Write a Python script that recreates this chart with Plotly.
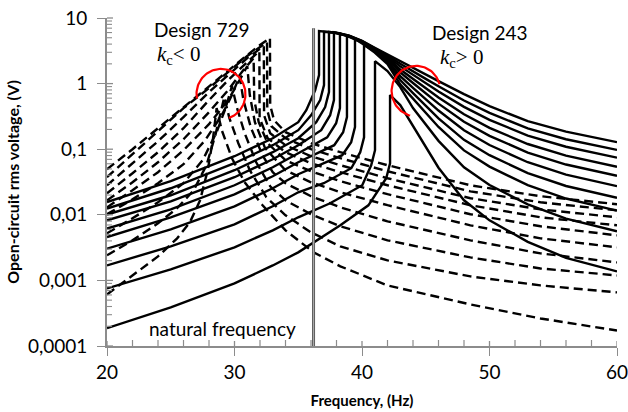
import numpy as np
import plotly.graph_objects as go

# ---------------- Design 243 (k_c > 0) : solid curves ----------------
s1_f = [20, 25, 30, 33, 35, 35.63, 36.33, 36.63, 36.63, 37, 38, 39, 40, 41, 42, 43, 44, 45, 46, 48, 50, 53, 56, 60]
s1_v = [0.01568, 0.0325, 0.0781, 0.147, 0.258, 0.394, 0.796, 1.348, 6.33, 6.22, 5.97, 5.39, 4.50, 3.52, 2.78, 2.21, 1.72, 1.37, 1.09, 0.691, 0.453, 0.268, 0.185, 0.128]
s2_f = [20, 25, 30, 33, 35, 36.02, 36.72, 37.02, 37.02, 38, 39, 40, 41, 42, 43, 44, 45, 46, 48, 50, 53, 56, 60]
s2_v = [0.01243, 0.02539, 0.0611, 0.1151, 0.195, 0.3303, 0.560, 0.949, 6.16, 5.94, 5.35, 4.46, 3.46, 2.68, 2.01, 1.52, 1.18, 0.91, 0.552, 0.357, 0.208, 0.142, 0.0976]
s3_f = [20, 25, 30, 33, 35, 36.41, 37.11, 37.41, 37.41, 38, 39, 40, 41, 42, 43, 44, 45, 46, 48, 50, 53, 56, 60]
s3_v = [0.01007, 0.01985, 0.0478, 0.090, 0.147, 0.258, 0.4377, 0.742, 6.12, 5.90, 5.31, 4.41, 3.40, 2.58, 1.83, 1.35, 1.01, 0.758, 0.442, 0.280, 0.161, 0.109, 0.0742]
s4_f = [20, 25, 30, 33, 35, 36.8, 37.5, 37.8, 37.8, 38, 39, 40, 41, 42, 43, 44, 45, 46, 48, 50, 53, 56, 60]
s4_v = [0.00824, 0.01607, 0.03737, 0.0703, 0.1151, 0.195, 0.330, 0.560, 6.02, 5.86, 5.27, 4.36, 3.34, 2.49, 1.64, 1.17, 0.845, 0.613, 0.341, 0.211, 0.120, 0.0799, 0.0540]
s5_f = [20, 25, 30, 33, 35, 37.27, 37.97, 38.27, 38.27, 39, 40, 41, 42, 43, 44, 45, 46, 48, 50, 53, 56, 60]
s5_v = [0.00616, 0.01213, 0.0282, 0.0531, 0.0869, 0.152, 0.249, 0.423, 5.80, 5.22, 4.30, 3.27, 2.37, 1.48, 1.02, 0.706, 0.495, 0.262, 0.160, 0.0890, 0.0584, 0.0394]
s6_f = [20, 25, 30, 33, 35, 37.82, 38.52, 38.82, 38.82, 39, 40, 41, 42, 43, 44, 45, 46, 48, 50, 53, 56, 60]
s6_v = [0.00458, 0.00916, 0.02056, 0.0387, 0.0633, 0.1151, 0.1817, 0.3078, 5.40, 5.16, 4.24, 3.19, 2.24, 1.30, 0.863, 0.576, 0.388, 0.195, 0.116, 0.0633, 0.0410, 0.0273]
s7_f = [20, 25, 30, 33, 35, 38.45, 39.15, 39.45, 39.45, 40, 41, 42, 43, 44, 45, 46, 48, 50, 53, 56, 60]
s7_v = [0.00305, 0.00601, 0.01348, 0.02539, 0.0415, 0.0810, 0.128, 0.2167, 4.80, 4.15, 3.10, 2.13, 1.135, 0.716, 0.458, 0.295, 0.139, 0.0810, 0.0433, 0.0275, 0.0182]
s8_f = [20, 25, 30, 33, 35, 37, 39.16, 39.86, 40.16, 40.16, 41, 42, 43, 44, 45, 46, 48, 50, 53, 56, 60]
s8_v = [0.001694, 0.003304, 0.00716, 0.01348, 0.02206, 0.0303, 0.0513, 0.090, 0.152, 3.9, 2.97, 1.99, 0.972, 0.586, 0.354, 0.218, 0.0959, 0.0543, 0.0283, 0.0177, 0.01155]
s9_f = [20, 25, 30, 33, 35, 37.5, 40.02, 40.72, 41.02, 41.02, 42, 43, 44, 45, 46, 48, 50, 53, 56, 60]
s9_v = [0.000755, 0.001472, 0.00319, 0.0058, 0.00916, 0.0150, 0.0282, 0.0569, 0.0965, 2.2, 1.55, 0.884, 0.423, 0.237, 0.134, 0.0529, 0.0285, 0.0144, 0.00872, 0.0056]
s10_f = [20, 25, 30, 33, 35, 38.3, 40.5, 41.2, 41.9, 42.2, 42.2, 43, 44, 45, 46, 48, 50, 53, 56, 60]
s10_v = [0.000187, 0.000387, 0.0009, 0.00169, 0.002676, 0.00691, 0.01396, 0.02206, 0.0361, 0.0611, 0.668, 0.470, 0.224, 0.107, 0.0522, 0.01665, 0.00824, 0.00387, 0.00221, 0.00137]

# ---------------- Design 729 (k_c < 0) : dashed curves ----------------
d1_f = [20, 22, 24, 26, 28, 29.5, 31, 32, 32.78, 32.8, 33.1, 34, 36, 38.3, 42, 48.5, 54, 60]
d1_v = [0.0495, 0.100, 0.209, 0.438, 0.916, 1.61, 2.72, 3.87, 4.95, 0.470, 0.277, 0.182, 0.1235, 0.0900, 0.0570, 0.0282, 0.0192, 0.0145]
d2_f = [20, 22, 24, 26, 28, 29.5, 31, 32.55, 32.57, 32.9, 34, 36, 38.3, 42, 48.5, 54, 60]
d2_v = [0.0374, 0.0839, 0.188, 0.423, 0.854, 1.50, 2.63, 4.30, 0.394, 0.224, 0.147, 0.100, 0.0729, 0.0461, 0.0228, 0.0155, 0.0117]
d3_f = [20, 22, 24, 26, 28, 29.5, 31, 32.3, 32.32, 32.8, 34, 36, 38.3, 42, 48.5, 54, 60]
d3_v = [0.0282, 0.0611, 0.132, 0.308, 0.742, 1.35, 2.45, 3.74, 0.330, 0.175, 0.115, 0.0782, 0.0570, 0.0361, 0.0179, 0.0121, 0.00916]
d4_f = [20, 22, 24, 26, 28, 29.5, 31, 31.95, 31.97, 32.6, 34, 36, 38.3, 42, 48.5, 54, 60]
d4_v = [0.0213, 0.0430, 0.0900, 0.209, 0.560, 1.13, 2.13, 3.13, 0.297, 0.147, 0.0900, 0.0611, 0.0446, 0.0282, 0.0140, 0.00916, 0.00691]
d5_f = [20, 22, 24, 26, 28, 29.5, 30.7, 31.5, 31.55, 31.9, 32.6, 34, 36, 38.3, 42, 48.5, 54, 60]
d5_v = [0.0166, 0.0313, 0.0633, 0.142, 0.367, 0.796, 1.61, 2.45, 0.560, 0.258, 0.1235, 0.0679, 0.0461, 0.0325, 0.0206, 0.0102, 0.00668, 0.00486]
d6_f = [20, 22, 24, 26, 28, 29.5, 30.4, 31.0, 31.2, 31.6, 32.4, 34, 36, 38.3, 42, 48.5, 54, 60]
d6_v = [0.0130, 0.0237, 0.0446, 0.0965, 0.241, 0.560, 1.13, 1.85, 0.668, 0.258, 0.1036, 0.0478, 0.0313, 0.0221, 0.0140, 0.00691, 0.00438, 0.00319]
d7_f = [20, 22, 24, 26, 27.7, 29, 29.8, 30.4, 30.7, 31.3, 32.2, 33, 34, 36, 38.3, 42, 48.5, 54, 60]
d7_v = [0.0102, 0.0172, 0.0303, 0.0590, 0.137, 0.330, 0.668, 1.30, 0.560, 0.209, 0.0810, 0.0446, 0.0303, 0.0192, 0.0130, 0.00796, 0.00408, 0.00258, 0.00188]
d8_f = [20, 22, 24, 26, 27.5, 28.6, 29.3, 29.8, 30.2, 30.8, 31.7, 32.8, 34, 36, 38.3, 42, 48.5, 54, 60]
d8_v = [0.00522, 0.00884, 0.0155, 0.0303, 0.0679, 0.182, 0.423, 0.916, 0.423, 0.175, 0.0633, 0.0272, 0.0166, 0.0102, 0.00668, 0.00408, 0.00224, 0.00152, 0.00119]
d9_f = [20, 22, 24, 25.5, 26.8, 27.8, 28.5, 29.2, 29.6, 30.3, 31.2, 32.5, 34, 36, 38.3, 42, 48.5, 54, 60]
d9_v = [0.00241, 0.00408, 0.00742, 0.0126, 0.0237, 0.0570, 0.164, 0.622, 0.297, 0.1235, 0.0478, 0.0185, 0.00983, 0.00540, 0.00330, 0.00202, 0.00115, 0.000839, 0.000656]
d10_f = [20, 22, 24, 25.5, 26.5, 27.3, 27.9, 28.3, 28.6, 29.0, 29.8, 30.8, 32.2, 34, 36.2, 38.3, 42, 48.5, 54, 60]
d10_v = [0.000611, 0.00119, 0.00232, 0.00438, 0.00768, 0.0166, 0.0478, 0.137, 0.423, 0.195, 0.0729, 0.0313, 0.0140, 0.00580, 0.00268, 0.00164, 0.000839, 0.000430, 0.000263, 0.000172]

# natural frequency marker
nat_f = [36.2, 36.2]
nat_v = [0.0001, 7.0]

# axis ticks
x_ticks = [20, 30, 40, 50, 60]
x_minor = [22, 24, 26, 28, 32, 34, 36, 38, 42, 44, 46, 48, 52, 54, 56, 58]
y_ticks = [0.0001, 0.001, 0.01, 0.1, 1, 10]
y_labels = ["0,0001", "0,001", "0,01", "0,1", "1", "10"]
y_minor = [m * d for d in [0.0001, 0.001, 0.01, 0.1, 1] for m in range(2, 10)]

solid = [(s1_f, s1_v), (s2_f, s2_v), (s3_f, s3_v), (s4_f, s4_v), (s5_f, s5_v),
         (s6_f, s6_v), (s7_f, s7_v), (s8_f, s8_v), (s9_f, s9_v), (s10_f, s10_v)]
dashed = [(d1_f, d1_v), (d2_f, d2_v), (d3_f, d3_v), (d4_f, d4_v), (d5_f, d5_v),
          (d6_f, d6_v), (d7_f, d7_v), (d8_f, d8_v), (d9_f, d9_v), (d10_f, d10_v)]

fig = go.Figure()
for f, v in dashed:
    fig.add_trace(go.Scatter(x=f, y=v, mode="lines",
                             line=dict(color="black", width=2.4, dash="9px,5px"),
                             hoverinfo="skip", showlegend=False))
for f, v in solid:
    fig.add_trace(go.Scatter(x=f, y=v, mode="lines",
                             line=dict(color="black", width=2.4),
                             hoverinfo="skip", showlegend=False))
fig.add_trace(go.Scatter(x=nat_f, y=nat_v, mode="lines",
                         line=dict(color="#555555", width=3),
                         hoverinfo="skip", showlegend=False))
fig.add_trace(go.Scatter(x=nat_f, y=nat_v, mode="lines",
                         line=dict(color="#a8a8a8", width=1.2),
                         hoverinfo="skip", showlegend=False))

# red highlight arcs (open circles)
def arc(cf, cv, a0, a1):
    t = np.radians(np.linspace(a0, a1, 80))
    rx, ry = 1.92, 0.385  # Hz, decades
    fx = cf + rx * np.cos(t)
    fy = 10 ** (np.log10(cv) + ry * np.sin(t))
    return fx, fy

ax_, ay_ = arc(28.94, 0.69, -71, 190)
fig.add_trace(go.Scatter(x=ax_, y=ay_, mode="lines", line=dict(color="#ff0000", width=2.2),
                         hoverinfo="skip", showlegend=False))
bx_, by_ = arc(44.24, 0.77, 16, 256)
fig.add_trace(go.Scatter(x=bx_, y=by_, mode="lines", line=dict(color="#ff0000", width=2.2),
                         hoverinfo="skip", showlegend=False))

font_txt = "Lato, 'Open Sans', sans-serif"
ann = [
    dict(x=202, y=29, text="Design 729", font=dict(size=19, family=font_txt)),
    dict(x=178, y=55, text="<i>k</i><sub>c</sub>&lt; 0", font=dict(size=21, family="Liberation Serif")),
    dict(x=480, y=32, text="Design 243", font=dict(size=19, family=font_txt)),
    dict(x=461, y=58, text="<i>k</i><sub>c</sub>&gt; 0", font=dict(size=21, family="Liberation Serif")),
    dict(x=222, y=328, text="natural frequency", font=dict(size=19, family=font_txt)),
]
annotations = []
for a in ann:
    annotations.append(dict(xref="paper", yref="paper",
                            x=(a["x"] - 107) / 510, y=1 - (a["y"] - 18) / 328,
                            text=a["text"], showarrow=False, font=dict(color="black", **a["font"]),
                            xanchor="center", yanchor="middle"))

# tick marks inside the plot area (minor ticks, and inner half of the crossing major ticks)
grey = "#8c8c8c"
plot_w, plot_h = 510, 328
shapes = []
for xv in x_minor:
    shapes.append(dict(type="line", xref="x", yref="paper", x0=xv, x1=xv, y0=0, y1=6 / plot_h,
                       line=dict(color=grey, width=1.2), layer="above"))
for xv in x_ticks:
    shapes.append(dict(type="line", xref="x", yref="paper", x0=xv, x1=xv, y0=0, y1=5 / plot_h,
                       line=dict(color=grey, width=1.3), layer="above"))
for yv in y_minor:
    yp = (np.log10(yv) + 4) / 5
    shapes.append(dict(type="line", xref="paper", yref="paper", x0=0, x1=5 / plot_w, y0=yp, y1=yp,
                       line=dict(color=grey, width=1.1), layer="above"))
for yv in y_ticks:
    yp = (np.log10(yv) + 4) / 5
    shapes.append(dict(type="line", xref="paper", yref="paper", x0=0, x1=6 / plot_w, y0=yp, y1=yp,
                       line=dict(color=grey, width=1.3), layer="above"))

fig.update_layout(
    width=628, height=412,
    margin=dict(l=107, r=11, t=18, b=66, autoexpand=False),
    paper_bgcolor="white", plot_bgcolor="white",
    annotations=annotations,
    shapes=shapes,
    xaxis=dict(range=[20, 60], tickmode="array", tickvals=x_ticks, ticks="outside", ticklen=8,
               tickcolor=grey, tickwidth=1.3, ticklabeloverflow="allow", automargin=False,
               showline=True, linecolor=grey, linewidth=1.6, showgrid=False, zeroline=False,
               tickfont=dict(size=19, family=font_txt, color="black"),
               title=dict(text="<b>Frequency, (Hz)</b>", font=dict(size=15, family=font_txt, color="black"),
                          standoff=14)),
    yaxis=dict(type="log", range=[-4, 1], tickmode="array", tickvals=y_ticks, ticktext=y_labels,
               ticks="outside", ticklen=8, tickcolor=grey, tickwidth=1.3, ticklabeloverflow="allow",
               automargin=False,
               showline=True, linecolor=grey, linewidth=1.6, showgrid=False, zeroline=False,
               tickfont=dict(size=19, family=font_txt, color="black"),
               ticklabelstandoff=6,
               title=dict(text="<b>Open-circuit rms voltage, (V)</b>", font=dict(size=16, family=font_txt, color="black"),
                          standoff=4)),
)

fig.write_html("out.html", config={"displayModeBar": False})
